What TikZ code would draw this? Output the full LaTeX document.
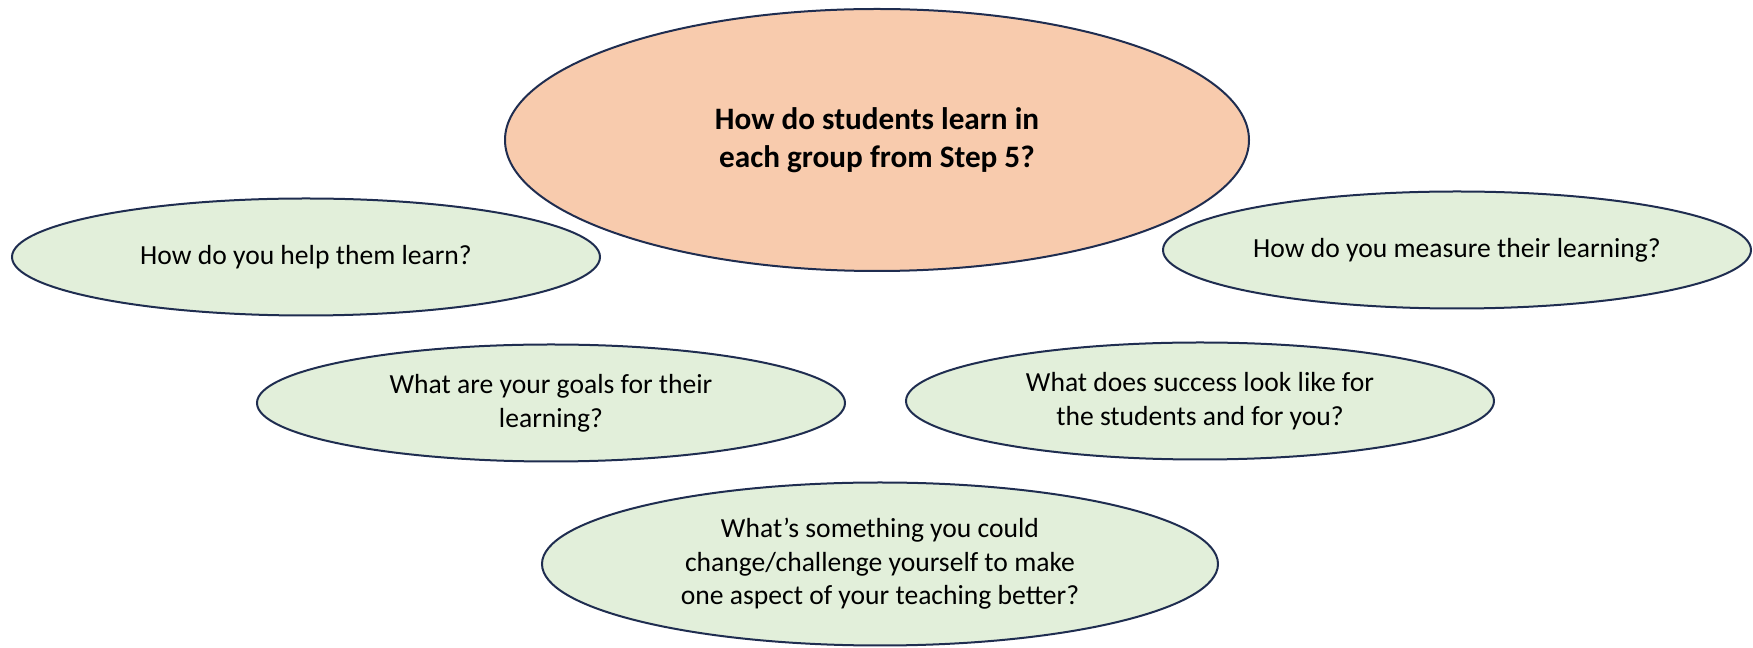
\documentclass[tikz,border=0pt]{standalone}
\usepackage{fontspec}
\setmainfont{Carlito}
\usepackage{tikz}
\usetikzlibrary{shapes.geometric}
\definecolor{navyline}{HTML}{1F2D50}
\definecolor{peachfill}{HTML}{F8CBAD}
\definecolor{sagefill}{HTML}{E2EFDA}
\tikzset{%
  bubble/.style={ellipse, draw=navyline, line width=1pt, inner sep=0pt,
    align=center, font=\fontsize{13.8pt}{16.8pt}\selectfont}}
\tikzset{%
  hub/.style={bubble, fill=peachfill, minimum width=372pt, minimum height=131pt,
    font=\fontsize{15.6pt}{19pt}\selectfont\bfseries}}
\tikzset{%
  question/.style={bubble, fill=sagefill, minimum width=294pt, minimum height=58.5pt}}

\begin{document}
\begin{tikzpicture}[x=0.5pt,y=0.5pt]
\useasboundingbox (0,0) rectangle (1753,648);
\node[hub] (steps) at (877,508) {How do students learn in\\each group from Step 5?};
\node[question] (help) at (306,391) {How do you help them learn?};
\node[question] (measure) at (1457,398) {How do you measure their learning?};
\node[question] (goals) at (551,245) {What are your goals for their\\learning?};
\node[question] (success) at (1200,247) {What does success look like for\\the students and for you?};
\node[bubble, fill=sagefill, minimum width=338pt, minimum height=81.5pt] (change) at (880,84)
  {What’s something you could\\change/challenge yourself to make\\one aspect of your teaching better?};
\end{tikzpicture}
\end{document}
